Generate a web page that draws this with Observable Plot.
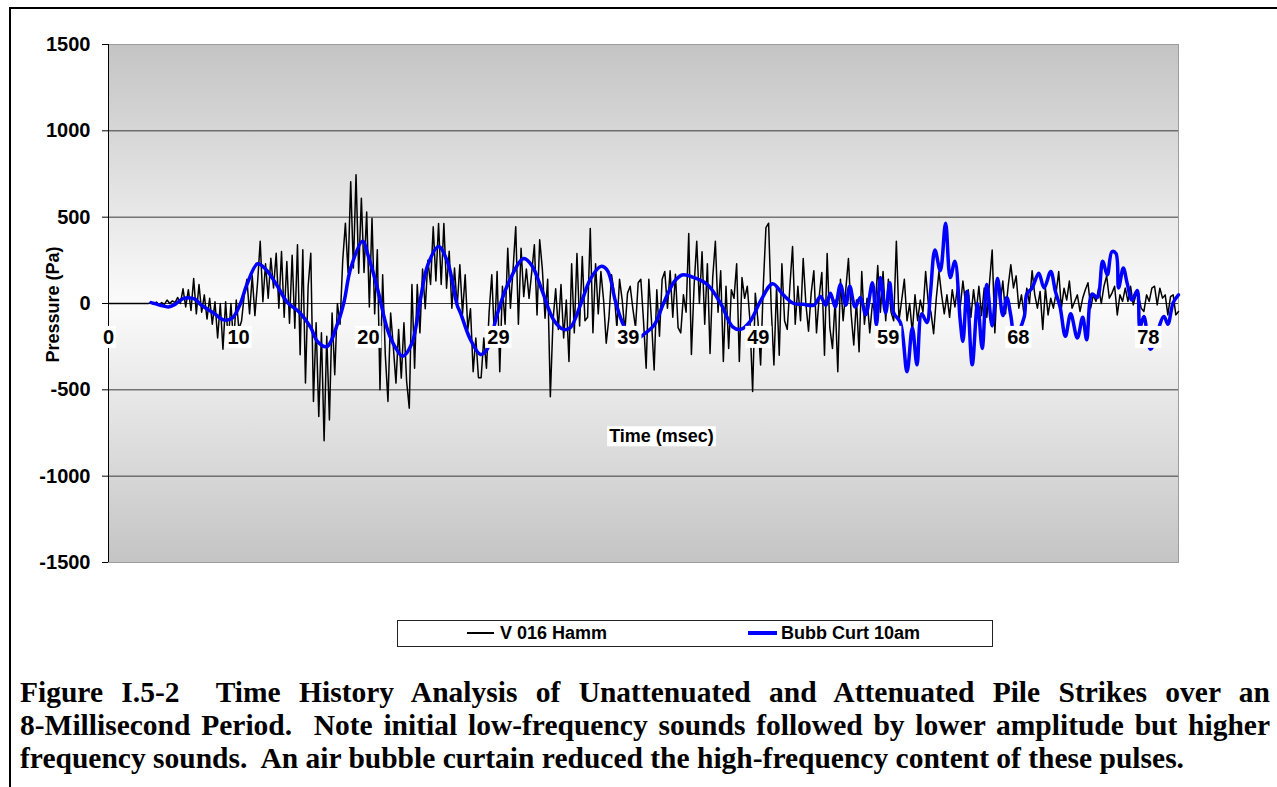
<!DOCTYPE html>
<html>
<head>
<meta charset="utf-8">
<script src="https://cdn.jsdelivr.net/npm/d3@7"></script>
<script src="https://cdn.jsdelivr.net/npm/@observablehq/plot@0.6"></script>
<style>
  body { margin: 0; background: #fff; }
  #fig { position: relative; width: 1277px; height: 787px; overflow: hidden; background: #fff;
         font-family: Arial, "Liberation Sans", sans-serif; }
  #chart { position: absolute; left: 0; top: 0; }
  .rule { position: absolute; background: #000; }
  #legend { position: absolute; left: 397px; top: 620px; width: 596px; height: 27px; box-sizing: border-box;
            border: 1.5px solid #222; background: #fff; }
  #legend .sw { position: absolute; }
  #legend .lab { position: absolute; top: 0; line-height: 24px; font-size: 18px; font-weight: bold; color: #000; white-space: nowrap; }
  #caption { position: absolute; left: 20px; top: 676px; width: 1250px;
             font-family: "Times New Roman", "Liberation Serif", serif; font-weight: bold; font-size: 29.5px; line-height: 33px; color: #000; }
  #caption .j { text-align: justify; text-align-last: justify; }
</style>
</head>
<body>
<div id="fig">
  <div id="chart"></div>
  <div class="rule" style="left:9px; top:7px; width:1268px; height:2px;"></div>
  <div class="rule" style="left:9px; top:7px; width:2px; height:780px;"></div>
  <div id="legend"></div>
  <div id="caption">
    <div class="j">Figure I.5-2&nbsp; Time History Analysis of Unattenuated and Attenuated Pile Strikes over an</div>
    <div class="j">8-Millisecond Period.&nbsp; Note initial low-frequency sounds followed by lower amplitude but higher</div>
    <div>frequency sounds.&nbsp; An air bubble curtain reduced the high-frequency content of these pulses.</div>
  </div>
</div>
<script>
// ---------------- data ----------------
const seriesNames = ["V 016 Hamm", "Bubb Curt 10am"];
const sampleInterval = 0.2; // msec between hammer samples

// V 016 Hamm pressure (Pa), one value every 0.2 msec from 0 msec
const hammPressure = [
  0,0,0,0,0,0,0,0,0,0,
  0,0,0,0,0,0,5,-5,8,-6,
  5,-5,20,0,15,5,35,0,85,-20,
  80,-40,145,-60,110,-50,50,-90,30,-120,
  10,-200,0,-265,10,-220,0,-235,20,-150,
  -100,50,140,-60,160,-70,120,360,10,230,
  30,262,90,291,-27,301,-80,243,-114,280,
  -143,340,-297,311,-461,100,291,-567,-112,-654,
  -170,-795,-190,-674,-55,-413,0,-120,250,465,
  180,705,205,745,175,610,180,530,-20,494,
  -60,311,-500,166,-300,-567,-55,-250,-461,-150,
  -432,-112,-450,-606,110,-375,110,-170,200,-30,
  250,110,445,130,463,110,463,89,302,-27,
  205,-20,225,-60,166,-150,-30,-395,-200,-430,
  -430,-200,-375,-50,166,-200,185,-395,100,-120,
  320,-27,200,445,-120,320,40,200,30,180,
  340,-66,369,200,-85,140,-540,-100,85,-150,
  110,-200,20,-336,230,-170,290,-130,272,-100,
  -80,435,-170,230,-60,185,20,-230,-85,166,
  60,-140,140,20,-160,60,100,-30,-140,120,
  140,-100,-375,140,-100,-385,80,-190,140,185,
  -27,190,-80,170,-140,-170,50,-50,405,-295,
  100,360,0,300,-120,230,-290,150,360,-50,
  190,-336,100,-260,80,30,230,-336,150,30,
  100,-100,-510,60,-100,-356,100,440,465,-30,
  -356,100,-300,230,-100,-150,100,330,-120,100,
  -100,260,0,-160,60,190,-170,40,180,-300,
  290,-140,-260,20,-395,140,-100,80,260,-60,
  -240,20,-280,185,-120,30,-170,0,-50,220,
  -50,185,-100,140,-50,-100,360,-100,20,140,
  -100,0,-170,50,-100,20,-50,185,0,-50,
  -175,30,185,50,-60,50,-80,80,-20,100,
  -20,130,0,80,-80,80,-50,100,-70,90,
  -80,120,310,-170,150,0,130,-60,100,225,
  90,160,-27,50,-66,89,0,190,50,-27,
  70,-150,89,-66,31,-27,60,185,-27,89,
  20,130,-27,12,50,-46,30,80,120,-27,
  50,12,89,0,100,160,31,60,100,-66,
  50,12,89,12,100,-8,50,40,-27,-46,
  50,12,89,100,-8,89,31,50,-66,40,
  50,-66,-46
];

// Bubb Curt 10am: times (msec) and pressures (Pa)
const bubbleTime = [
  3.2,3.9,4.5,5.0,5.65,6.5,6.9,7.9,8.65,9.3,9.9,10.4,11.2,11.8,12.7,13.4,14.4,15.2,15.7,16.4,
  17.2,17.7,18.2,19.1,19.5,20.2,21.0,21.6,22.1,22.8,23.4,24.0,24.8,25.5,26.2,26.45,27.2,27.95,28.45,29.2,
  30.0,31.2,31.85,32.6,33.45,34.2,34.7,35.5,36.2,37.0,37.5,38.1,38.7,39.5,40.2,41.0,41.7,42.5,43.1,44.0,
  45.0,46.0,46.9,47.5,48.2,49.0,49.9,50.7,51.5,52.2,53.0,53.5,53.9,54.25,54.6,55.0,55.4,55.7,56.1,56.5,
  56.9,57.4,57.7,58.0,58.4,58.7,59.0,59.5,60.0,60.4,60.75,61.1,61.5,61.75,62.1,62.5,62.9,63.25,63.6,64.0,
  64.2,64.5,64.9,65.3,65.65,66.0,66.4,66.8,67.2,67.5,67.8,68.1,68.8,69.0,69.4,69.9,70.3,70.8,71.15,71.5,
  71.9,72.3,72.8,73.2,73.5,73.9,74.3,74.7,75.05,75.4,75.7,75.9,76.25,76.55,76.9,77.3,77.5,77.8,78.3,79.3,
  79.6,80.0,80.4
];
const bubblePressure = [
  5,-10,-20,-5,30,25,-5,-55,-95,-85,-3,110,230,200,100,10,-55,-140,-220,-250,
  -120,10,205,360,280,90,-160,-260,-305,-230,10,225,330,235,-10,-55,-210,-295,-265,-65,
  110,260,215,70,-95,-150,-140,0,140,215,190,10,-125,-210,-180,-125,0,125,165,150,
  110,0,-135,-150,-105,15,115,50,0,-5,-10,40,-10,60,-20,110,-10,100,-20,35,
  -65,120,-125,150,-55,120,-55,-110,-395,-140,-355,-60,-110,50,310,190,465,150,245,-100,
  -220,70,-355,0,-260,110,-130,145,-70,35,-70,-200,-80,55,90,175,90,185,70,-20,
  -190,-60,-200,-80,-210,55,35,245,165,300,290,90,205,115,20,75,-140,-75,-265,-75,
  -120,5,50
];

const yTicks = [-1500, -1000, -500, 0, 500, 1000, 1500];
const gridValues = [-1000, -500, 0, 500, 1000];
const xTickTimes = [0, 9.77, 19.53, 29.30, 39.06, 48.83, 58.59, 68.36, 78.13];
const xTickLabels = ["0", "10", "20", "29", "39", "49", "59", "68", "78"];
const axisTitleX = "Time (msec)";
const axisTitleY = "Pressure (Pa)";
const axisCrossing = 0;

// ---------------- chart ----------------
const hamm = hammPressure.map((v, i) => ({t: i * sampleInterval, v}));
const bubb = bubbleTime.map((t, i) => ({t, v: bubblePressure[i]}));
const xLabels = xTickTimes.map((t, i) => ({t, label: xTickLabels[i]}));
const tMax = d3.max(hamm, d => d.t);

const chart = Plot.plot({
  width: 1277,
  height: 600,
  marginLeft: 108,
  marginRight: 99,
  marginTop: 44,
  marginBottom: 38,
  x: {domain: [0, tMax], axis: null},
  y: {domain: [yTicks[0], yTicks[yTicks.length - 1]], axis: null},
  style: {
    fontFamily: 'Arial, "Liberation Sans", sans-serif',
    fontWeight: "bold",
    fontSize: "20px",
    color: "#000",
    background: "transparent",
    overflow: "visible"
  },
  marks: [
    Plot.frame({fill: "url(#plotGradient)", stroke: "#9c9c9c"}),
    Plot.ruleY(gridValues, {stroke: "#3a3a3a", strokeWidth: 1}),
    Plot.ruleX([0], {stroke: "#000", strokeWidth: 1}),
    Plot.line(hamm, {x: "t", y: "v", stroke: "#000", strokeWidth: 1.5}),
    Plot.line(bubb, {x: "t", y: "v", stroke: "#0000ff", strokeWidth: 3.5, curve: "catmull-rom"}),
    Plot.text(xLabels, {x: "t", y: () => axisCrossing, text: "label", dy: 34, fontSize: 20, fontWeight: "bold", fill: "#000"}),
    Plot.text([axisTitleX], {frameAnchor: "middle", dx: 18, dy: 133, fontSize: 18, fontWeight: "bold", fill: "#000"}),
    Plot.text([axisTitleY], {frameAnchor: "left", textAnchor: "middle", rotate: -90, dx: -55, dy: 1, fontSize: 18, fontWeight: "bold", fill: "#000"}),
    Plot.axisY({ticks: yTicks, tickSize: 6, tickPadding: 12, label: null, tickFormat: d => String(d), fontSize: 20, fontWeight: "bold", stroke: "#000"})
  ]
});

document.getElementById("chart").appendChild(chart);

// gradient background for the plot area
const ns = "http://www.w3.org/2000/svg";
const defs = document.createElementNS(ns, "defs");
const grad = document.createElementNS(ns, "linearGradient");
grad.setAttribute("id", "plotGradient");
grad.setAttribute("x1", "0"); grad.setAttribute("y1", "0");
grad.setAttribute("x2", "0"); grad.setAttribute("y2", "1");
[["0", "#c4c4c4"], ["0.5", "#fbfbfb"], ["1", "#c4c4c4"]].forEach(([o, c]) => {
  const s = document.createElementNS(ns, "stop");
  s.setAttribute("offset", o); s.setAttribute("stop-color", c);
  grad.appendChild(s);
});
defs.appendChild(grad);
chart.insertBefore(defs, chart.firstChild);

// white boxes behind category labels and the x title (Excel style)
chart.querySelectorAll('g[aria-label="text"] text').forEach(t => {
  if (t.textContent === axisTitleY) return;
  const b = t.getBBox();
  const r = document.createElementNS(ns, "rect");
  r.setAttribute("x", b.x - 2);
  r.setAttribute("y", b.y);
  r.setAttribute("width", b.width + 4);
  r.setAttribute("height", b.height);
  r.setAttribute("fill", "#fff");
  r.setAttribute("stroke", "none");
  const tr = t.getAttribute("transform");
  if (tr) r.setAttribute("transform", tr);
  t.parentNode.insertBefore(r, t);
});

// legend
const legend = document.getElementById("legend");
const legendItems = [
  {name: seriesNames[0], color: "#000", w: 1.5, sx: 69, sw: 27, lx: 102},
  {name: seriesNames[1], color: "#0000ff", w: 3.5, sx: 350, sw: 29, lx: 383}
];
legendItems.forEach(it => {
  const sw = document.createElement("div");
  sw.className = "sw";
  sw.style.left = it.sx + "px";
  sw.style.width = it.sw + "px";
  sw.style.height = it.w + "px";
  sw.style.top = (12 - it.w / 2) + "px";
  sw.style.background = it.color;
  legend.appendChild(sw);
  const lab = document.createElement("div");
  lab.className = "lab";
  lab.style.left = it.lx + "px";
  lab.textContent = it.name;
  legend.appendChild(lab);
});
</script>
</body>
</html>
